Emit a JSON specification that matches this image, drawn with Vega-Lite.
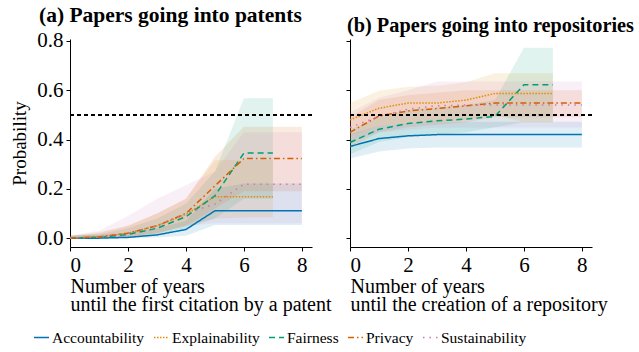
{
  "$schema": "https://vega.github.io/schema/vega-lite/v6.json",
  "background": "white",
  "padding": {"left": 10, "top": 5, "right": 5, "bottom": 5},
  "config": {
    "font": "Liberation Serif",
    "view": {"stroke": null},
    "axis": {"grid": false, "domainColor": "black", "tickColor": "black", "labelColor": "black", "titleColor": "black", "labelFont": "Liberation Serif", "titleFont": "Liberation Serif", "labelFontSize": 21, "titleFontSize": 20, "titleFontWeight": "normal", "tickSize": 4, "labelPadding": 3, "domainWidth": 1},
    "legend": {"symbolType": "stroke", "symbolSize": 225, "symbolStrokeWidth": 1.5, "columnPadding": 6, "labelOffset": 2, "labelFont": "Liberation Serif", "labelFontSize": 15.5, "labelColor": "black"},
    "title": {"font": "Liberation Serif", "fontWeight": "bold", "color": "black"}
  },
  "datasets": {
    "d": [
      {"panel": "a", "series": "Accountability", "x": 0, "y": 0, "lo": 0, "hi": 0.01},
      {"panel": "a", "series": "Accountability", "x": 1, "y": 0, "lo": 0, "hi": 0.015},
      {"panel": "a", "series": "Accountability", "x": 2, "y": 0.003, "lo": 0, "hi": 0.02},
      {"panel": "a", "series": "Accountability", "x": 3, "y": 0.013, "lo": 0.003, "hi": 0.04},
      {"panel": "a", "series": "Accountability", "x": 4, "y": 0.035, "lo": 0.01, "hi": 0.07},
      {"panel": "a", "series": "Accountability", "x": 5, "y": 0.111, "lo": 0.053, "hi": 0.2},
      {"panel": "a", "series": "Accountability", "x": 6, "y": 0.111, "lo": 0.053, "hi": 0.222},
      {"panel": "a", "series": "Accountability", "x": 7, "y": 0.111, "lo": 0.053, "hi": 0.222},
      {"panel": "a", "series": "Accountability", "x": 8, "y": 0.111, "lo": 0.053, "hi": 0.222},
      {"panel": "a", "series": "Explainability", "x": 0, "y": 0, "lo": 0, "hi": 0.01},
      {"panel": "a", "series": "Explainability", "x": 1, "y": 0.005, "lo": 0, "hi": 0.025},
      {"panel": "a", "series": "Explainability", "x": 2, "y": 0.02, "lo": 0.005, "hi": 0.05},
      {"panel": "a", "series": "Explainability", "x": 3, "y": 0.05, "lo": 0.02, "hi": 0.1},
      {"panel": "a", "series": "Explainability", "x": 4, "y": 0.097, "lo": 0.05, "hi": 0.16},
      {"panel": "a", "series": "Explainability", "x": 5, "y": 0.168, "lo": 0.08, "hi": 0.316},
      {"panel": "a", "series": "Explainability", "x": 6, "y": 0.168, "lo": 0.084, "hi": 0.316},
      {"panel": "a", "series": "Explainability", "x": 7, "y": 0.168, "lo": 0.084, "hi": 0.316},
      {"panel": "a", "series": "Fairness", "x": 0, "y": 0, "lo": 0, "hi": 0.01},
      {"panel": "a", "series": "Fairness", "x": 1, "y": 0.003, "lo": 0, "hi": 0.015},
      {"panel": "a", "series": "Fairness", "x": 2, "y": 0.015, "lo": 0.003, "hi": 0.04},
      {"panel": "a", "series": "Fairness", "x": 3, "y": 0.04, "lo": 0.015, "hi": 0.08},
      {"panel": "a", "series": "Fairness", "x": 4, "y": 0.087, "lo": 0.04, "hi": 0.14},
      {"panel": "a", "series": "Fairness", "x": 5, "y": 0.172, "lo": 0.08, "hi": 0.27},
      {"panel": "a", "series": "Fairness", "x": 6, "y": 0.345, "lo": 0.16, "hi": 0.568},
      {"panel": "a", "series": "Fairness", "x": 7, "y": 0.345, "lo": 0.16, "hi": 0.568},
      {"panel": "a", "series": "Privacy", "x": 0, "y": 0, "lo": 0, "hi": 0.01},
      {"panel": "a", "series": "Privacy", "x": 1, "y": 0.005, "lo": 0, "hi": 0.02},
      {"panel": "a", "series": "Privacy", "x": 2, "y": 0.02, "lo": 0.005, "hi": 0.05},
      {"panel": "a", "series": "Privacy", "x": 3, "y": 0.05, "lo": 0.02, "hi": 0.1},
      {"panel": "a", "series": "Privacy", "x": 4, "y": 0.1, "lo": 0.05, "hi": 0.16},
      {"panel": "a", "series": "Privacy", "x": 5, "y": 0.212, "lo": 0.12, "hi": 0.33},
      {"panel": "a", "series": "Privacy", "x": 6, "y": 0.323, "lo": 0.19, "hi": 0.452},
      {"panel": "a", "series": "Privacy", "x": 7, "y": 0.323, "lo": 0.19, "hi": 0.452},
      {"panel": "a", "series": "Privacy", "x": 8, "y": 0.323, "lo": 0.19, "hi": 0.452},
      {"panel": "a", "series": "Sustainability", "x": 0, "y": 0, "lo": 0, "hi": 0.01},
      {"panel": "a", "series": "Sustainability", "x": 1, "y": 0.005, "lo": 0, "hi": 0.03},
      {"panel": "a", "series": "Sustainability", "x": 2, "y": 0.02, "lo": 0.005, "hi": 0.09},
      {"panel": "a", "series": "Sustainability", "x": 3, "y": 0.05, "lo": 0.02, "hi": 0.16},
      {"panel": "a", "series": "Sustainability", "x": 4, "y": 0.1, "lo": 0.05, "hi": 0.215},
      {"panel": "a", "series": "Sustainability", "x": 5, "y": 0.138, "lo": 0.06, "hi": 0.27},
      {"panel": "a", "series": "Sustainability", "x": 6, "y": 0.219, "lo": 0.06, "hi": 0.43},
      {"panel": "a", "series": "Sustainability", "x": 7, "y": 0.219, "lo": 0.06, "hi": 0.43},
      {"panel": "a", "series": "Sustainability", "x": 8, "y": 0.219, "lo": 0.06, "hi": 0.43},
      {"panel": "b", "series": "Accountability", "x": 0, "y": 0.372, "lo": 0.323, "hi": 0.42},
      {"panel": "b", "series": "Accountability", "x": 1, "y": 0.404, "lo": 0.352, "hi": 0.456},
      {"panel": "b", "series": "Accountability", "x": 2, "y": 0.415, "lo": 0.364, "hi": 0.468},
      {"panel": "b", "series": "Accountability", "x": 3, "y": 0.42, "lo": 0.368, "hi": 0.472},
      {"panel": "b", "series": "Accountability", "x": 4, "y": 0.42, "lo": 0.368, "hi": 0.472},
      {"panel": "b", "series": "Accountability", "x": 5, "y": 0.42, "lo": 0.368, "hi": 0.472},
      {"panel": "b", "series": "Accountability", "x": 6, "y": 0.42, "lo": 0.368, "hi": 0.472},
      {"panel": "b", "series": "Accountability", "x": 7, "y": 0.42, "lo": 0.368, "hi": 0.472},
      {"panel": "b", "series": "Accountability", "x": 8, "y": 0.42, "lo": 0.368, "hi": 0.472},
      {"panel": "b", "series": "Explainability", "x": 0, "y": 0.48, "lo": 0.415, "hi": 0.548},
      {"panel": "b", "series": "Explainability", "x": 1, "y": 0.527, "lo": 0.456, "hi": 0.598},
      {"panel": "b", "series": "Explainability", "x": 2, "y": 0.548, "lo": 0.47, "hi": 0.614},
      {"panel": "b", "series": "Explainability", "x": 3, "y": 0.548, "lo": 0.47, "hi": 0.618},
      {"panel": "b", "series": "Explainability", "x": 4, "y": 0.56, "lo": 0.48, "hi": 0.632},
      {"panel": "b", "series": "Explainability", "x": 5, "y": 0.587, "lo": 0.5, "hi": 0.669},
      {"panel": "b", "series": "Explainability", "x": 6, "y": 0.587, "lo": 0.47, "hi": 0.669},
      {"panel": "b", "series": "Explainability", "x": 7, "y": 0.587, "lo": 0.47, "hi": 0.669},
      {"panel": "b", "series": "Fairness", "x": 0, "y": 0.388, "lo": 0.34, "hi": 0.44},
      {"panel": "b", "series": "Fairness", "x": 1, "y": 0.442, "lo": 0.39, "hi": 0.49},
      {"panel": "b", "series": "Fairness", "x": 2, "y": 0.465, "lo": 0.41, "hi": 0.52},
      {"panel": "b", "series": "Fairness", "x": 3, "y": 0.476, "lo": 0.42, "hi": 0.53},
      {"panel": "b", "series": "Fairness", "x": 4, "y": 0.483, "lo": 0.43, "hi": 0.54},
      {"panel": "b", "series": "Fairness", "x": 5, "y": 0.494, "lo": 0.45, "hi": 0.56},
      {"panel": "b", "series": "Fairness", "x": 6, "y": 0.622, "lo": 0.47, "hi": 0.773},
      {"panel": "b", "series": "Fairness", "x": 7, "y": 0.622, "lo": 0.47, "hi": 0.773},
      {"panel": "b", "series": "Privacy", "x": 0, "y": 0.429, "lo": 0.37, "hi": 0.49},
      {"panel": "b", "series": "Privacy", "x": 1, "y": 0.496, "lo": 0.43, "hi": 0.56},
      {"panel": "b", "series": "Privacy", "x": 2, "y": 0.516, "lo": 0.45, "hi": 0.58},
      {"panel": "b", "series": "Privacy", "x": 3, "y": 0.526, "lo": 0.46, "hi": 0.59},
      {"panel": "b", "series": "Privacy", "x": 4, "y": 0.537, "lo": 0.47, "hi": 0.6},
      {"panel": "b", "series": "Privacy", "x": 5, "y": 0.548, "lo": 0.49, "hi": 0.6},
      {"panel": "b", "series": "Privacy", "x": 6, "y": 0.548, "lo": 0.49, "hi": 0.6},
      {"panel": "b", "series": "Privacy", "x": 7, "y": 0.548, "lo": 0.49, "hi": 0.6},
      {"panel": "b", "series": "Privacy", "x": 8, "y": 0.548, "lo": 0.49, "hi": 0.6},
      {"panel": "b", "series": "Sustainability", "x": 0, "y": 0.449, "lo": 0.39, "hi": 0.51},
      {"panel": "b", "series": "Sustainability", "x": 1, "y": 0.494, "lo": 0.43, "hi": 0.57},
      {"panel": "b", "series": "Sustainability", "x": 2, "y": 0.523, "lo": 0.44, "hi": 0.6},
      {"panel": "b", "series": "Sustainability", "x": 3, "y": 0.537, "lo": 0.449, "hi": 0.636},
      {"panel": "b", "series": "Sustainability", "x": 4, "y": 0.54, "lo": 0.449, "hi": 0.636},
      {"panel": "b", "series": "Sustainability", "x": 5, "y": 0.54, "lo": 0.449, "hi": 0.636},
      {"panel": "b", "series": "Sustainability", "x": 6, "y": 0.54, "lo": 0.449, "hi": 0.636},
      {"panel": "b", "series": "Sustainability", "x": 7, "y": 0.54, "lo": 0.449, "hi": 0.636},
      {"panel": "b", "series": "Sustainability", "x": 8, "y": 0.54, "lo": 0.449, "hi": 0.636}
    ]
  },
  "hconcat": [
    {
      "width": 242,
      "height": 208,
      "title": {"text": "(a) Papers going into patents", "anchor": "start", "frame": "group", "dx": -31, "offset": 3, "fontSize": 21.5},
      "data": {"name": "d"},
      "transform": [{"filter": "datum.panel == 'a'"}],
      "layer": [
        {
          "mark": {"type": "area", "opacity": 0.12},
          "encoding": {
            "x": {"field": "x", "type": "quantitative", "scale": {"domain": [0, 8.35], "nice": false, "zero": false}, "axis": {"values": [0, 2, 4, 6, 8], "title": ["Number of years", "until the first citation by a patent"], "titleAnchor": "start", "titleAlign": "left", "titlePadding": 1, "titleLineHeight": 18}},
            "y": {"field": "lo", "type": "quantitative", "scale": {"domain": [-0.036, 0.808], "nice": false, "zero": false}, "axis": {"values": [0, 0.1, 0.2, 0.3, 0.4, 0.5, 0.6, 0.7, 0.8], "labelExpr": "round(datum.value*10) % 2 == 0 ? format(datum.value, '.1f') : ''", "title": "Probability", "titleFontSize": 19, "titlePadding": 7}},
            "y2": {"field": "hi"},
            "fill": {"field": "series", "type": "nominal", "scale": {"domain": ["Sustainability", "Privacy", "Fairness", "Explainability", "Accountability"], "range": ["#cc78bc", "#d55e00", "#029e73", "#de8f05", "#0173b2"]}, "legend": null}
          }
        },
        {
          "mark": {"type": "line", "strokeWidth": 1.5},
          "encoding": {
            "x": {"field": "x", "type": "quantitative"},
            "y": {"field": "y", "type": "quantitative"},
            "color": {"field": "series", "type": "nominal", "scale": {"domain": ["Accountability", "Explainability", "Fairness", "Privacy", "Sustainability"], "range": ["#0173b2", "#de8f05", "#029e73", "#d55e00", "#cc78bc"]}, "legend": {"title": null, "orient": "none", "direction": "horizontal", "legendX": -37, "legendY": 290}},
            "strokeDash": {"field": "series", "type": "nominal", "scale": {"domain": ["Accountability", "Explainability", "Fairness", "Privacy", "Sustainability"], "range": [[1, 0], [1.5, 1.5], [6, 4], [6, 3, 1.5, 3], [1.5, 5]]}, "legend": {"title": null, "orient": "none", "direction": "horizontal", "legendX": -37, "legendY": 290}}
          }
        },
        {
          "mark": {"type": "rule", "color": "black", "strokeDash": [4, 3], "strokeWidth": 1},
          "encoding": {"y": {"datum": 0.5}}
        }
      ]
    },
    {
      "width": 242,
      "height": 208,
      "title": {"text": "(b) Papers going into repositories", "anchor": "start", "frame": "group", "dx": -3, "offset": 3, "fontSize": 20.3},
      "data": {"name": "d"},
      "transform": [{"filter": "datum.panel == 'b'"}],
      "layer": [
        {
          "mark": {"type": "area", "opacity": 0.12},
          "encoding": {
            "x": {"field": "x", "type": "quantitative", "scale": {"domain": [0, 8.35], "nice": false, "zero": false}, "axis": {"values": [0, 2, 4, 6, 8], "title": ["Number of years", "until the creation of a repository"], "titleAnchor": "start", "titleAlign": "left", "titlePadding": 1, "titleLineHeight": 18}},
            "y": {"field": "lo", "type": "quantitative", "scale": {"domain": [-0.036, 0.808], "nice": false, "zero": false}, "axis": {"values": [0, 0.1, 0.2, 0.3, 0.4, 0.5, 0.6, 0.7, 0.8], "labels": false, "title": null}},
            "y2": {"field": "hi"},
            "fill": {"field": "series", "type": "nominal", "legend": null}
          }
        },
        {
          "mark": {"type": "line", "strokeWidth": 1.5},
          "encoding": {
            "x": {"field": "x", "type": "quantitative"},
            "y": {"field": "y", "type": "quantitative"},
            "color": {"field": "series", "type": "nominal", "legend": {"title": null, "orient": "none", "direction": "horizontal", "legendX": -37, "legendY": 290}},
            "strokeDash": {"field": "series", "type": "nominal", "legend": {"title": null, "orient": "none", "direction": "horizontal", "legendX": -37, "legendY": 290}}
          }
        },
        {
          "mark": {"type": "rule", "color": "black", "strokeDash": [4, 3], "strokeWidth": 1},
          "encoding": {"y": {"datum": 0.5}}
        }
      ]
    }
  ],
  "resolve": {"scale": {"y": "independent", "x": "independent"}, "legend": {"color": "shared", "strokeDash": "shared"}},
  "spacing": 38,
  "bounds": "flush"
}
